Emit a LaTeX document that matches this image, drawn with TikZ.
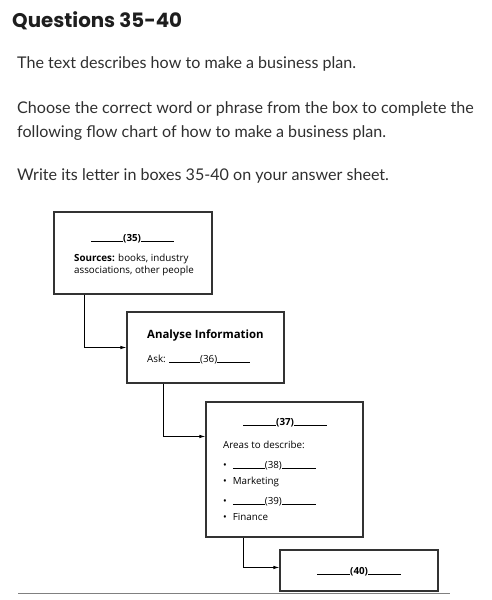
\documentclass[tikz,border=0pt]{standalone}
\usepackage{fontspec}
\setmainfont{Lato}
\newfontfamily\titlefont{Poppins}
\newfontfamily\boxfont{Open Sans}
\usetikzlibrary{arrows.meta,calc}
\definecolor{titlecol}{HTML}{1E1E1E}
\definecolor{bodycol}{HTML}{2F2F2F}
\definecolor{boxline}{HTML}{333333}
\definecolor{rulecol}{HTML}{808080}
\newcommand\blankln[1]{\rule[-0.4pt]{#1pt}{0.8pt}}
\tikzset{
  flowbox/.style={draw=boxline,line width=1.1pt,inner sep=0pt},
  bodytext/.style={anchor=base west,inner sep=0pt,text=bodycol,font=\fontsize{16.1}{19}\selectfont},
  boxtext/.style={anchor=base west,inner sep=0pt,text=black,font=\boxfont\fontsize{9.8}{12}\selectfont},
  link/.style={draw=black,line width=0.9pt,-{Latex[length=6pt,width=3.5pt]}}
}
\begin{document}
\begin{tikzpicture}[x=1pt,y=-1pt]
\useasboundingbox (0,0) rectangle (491,600);
% header texts
\node[anchor=base west,inner sep=0pt,text=titlecol,font=\titlefont\bfseries\fontsize{19.8}{24}\selectfont] (title) at (12,27) {Questions 35-40};
\node[bodytext] (t1) at (17,68) {The text describes how to make a business plan.};
\node[bodytext] (t2) at (17,113) {Choose the correct word or phrase from the box to complete the};
\node[bodytext] (t3) at (17,137) {following flow chart of how to make a business plan.};
\node[bodytext] (t4) at (17,180) {Write its letter in boxes 35-40 on your answer sheet.};
% boxes
\node[flowbox,minimum width=158pt,minimum height=82pt] (b1) at (133,253) {};
\node[flowbox,minimum width=157pt,minimum height=71pt] (b2) at (205.5,347.5) {};
\node[flowbox,minimum width=157pt,minimum height=135pt] (b3) at (284.5,469.5) {};
\node[flowbox,minimum width=158pt,minimum height=41pt] (b4) at (359,570.5) {};
% box 1 text
\node[boxtext] (q35) at (91,241) {\blankln{32}\textbf{(35)}\blankln{33}};
\node[boxtext] (s1) at (74,261) {\textbf{Sources:} books, industry};
\node[boxtext] (s2) at (74,273) {associations, other people};
% box 2 text
\node[boxtext,font=\boxfont\bfseries\fontsize{11.4}{13}\selectfont] (ai) at (147,338) {Analyse Information};
\node[boxtext] (ask) at (147,362) {Ask: \blankln{31}(36)\blankln{33}};
% box 3 text
\node[boxtext] (q37) at (243,425) {\blankln{33}\textbf{(37)}\blankln{33}};
\node[boxtext] (areas) at (223,448) {Areas to describe:};
\node[boxtext] (i1) at (223,468) {\textbullet\hspace{6pt}\blankln{32}(38)\blankln{34}};
\node[boxtext] (i2) at (223,484) {\textbullet\hspace{6pt}Marketing};
\node[boxtext] (i3) at (223,504) {\textbullet\hspace{6pt}\blankln{32}(39)\blankln{34}};
\node[boxtext] (i4) at (223,520) {\textbullet\hspace{6pt}Finance};
% box 4 text
\node[boxtext] (q40) at (317,574) {\blankln{33}\textbf{(40)}\blankln{33}};
% connectors
\draw[link] ($(b1.south west)+(31,0)$) |- (b2.west);
\draw[link] ($(b2.south west)+(37,0)$) |- ($(b3.north west)+(0,35)$);
\draw[link] ($(b3.south west)+(38,0)$) |- ($(b4.north west)+(0,18)$);
% bottom rule
\coordinate (r1) at (18,593);
\coordinate (r2) at (450,593);
\draw[rulecol,line width=1pt] (r1) -- (r2);
\end{tikzpicture}
\end{document}
